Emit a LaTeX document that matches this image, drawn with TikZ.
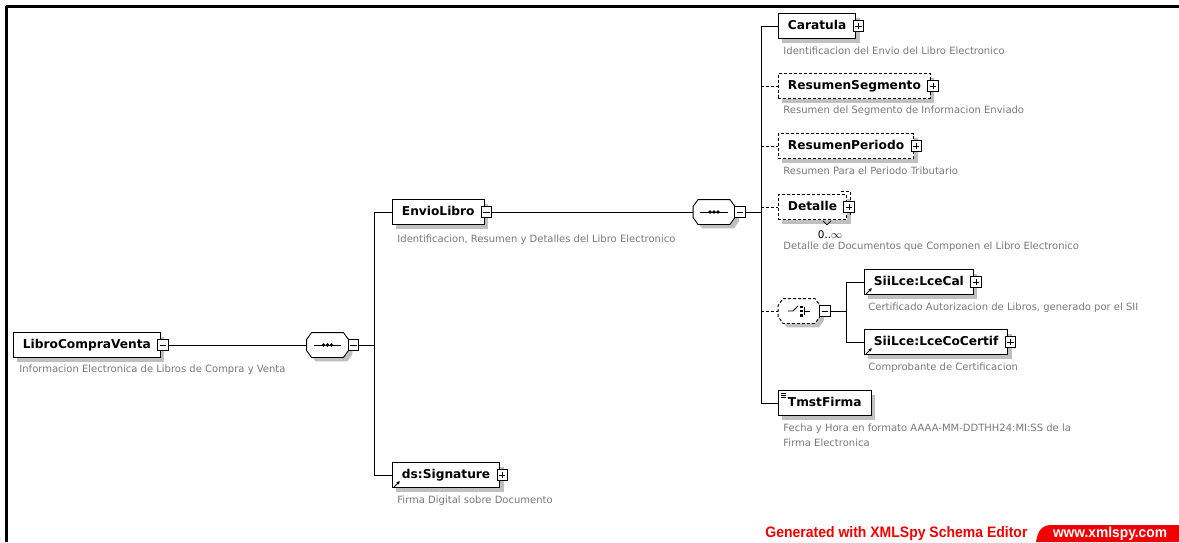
\documentclass[tikz,border=0pt]{standalone}
\usepackage{fontspec}
\usepackage{graphicx}
\setmainfont{DejaVu Sans}
\newfontfamily\ftfont{Liberation Sans}
\usetikzlibrary{shadows,arrows.meta}
\definecolor{xred}{RGB}{240,0,0}
\definecolor{shd}{RGB}{192,192,192}
\definecolor{dgray}{RGB}{120,120,120}
\tikzset{
  every node/.style={inner sep=0pt},
  dsh/.style={dash pattern=on 3pt off 2pt},
  shdw/.style={drop shadow={shadow xshift=4pt, shadow yshift=-4pt, fill=shd, opacity=1}},
  elem/.style={draw=black, fill=white, line width=0.9pt, anchor=west,
    minimum height=25pt, inner xsep=9.5pt, text height=9pt, text depth=2.5pt,
    font=\fontsize{12.2}{14}\selectfont\bfseries, shdw},
  optelem/.style={elem, dsh},
  tminus/.style={draw, fill=white, line width=0.7pt, minimum size=10.5pt,
    path picture={\draw[line width=0.7pt] ([xshift=2pt]path picture bounding box.west) -- ([xshift=-2pt]path picture bounding box.east);}},
  tplus/.style={draw, fill=white, line width=0.7pt, minimum size=10.5pt,
    path picture={\draw[line width=0.7pt] ([xshift=2pt]path picture bounding box.west) -- ([xshift=-2pt]path picture bounding box.east);
                  \draw[line width=0.7pt] ([yshift=-2pt]path picture bounding box.north) -- ([yshift=2pt]path picture bounding box.south);}},
  comp/.style={rectangle, draw=none, minimum width=41pt, minimum height=24pt},
  octline/.style={draw=black, fill=white, line width=0.9pt, shdw},
  desc/.style={anchor=west, text=dgray, font=\fontsize{10}{15}\selectfont},
  refarrow/.style={line width=1pt, -{Latex[length=3.5pt,width=3.5pt]}},
}
\newcommand\octa[2]{%
  \path[#2] ([xshift=5pt]#1.north west) -- ([xshift=-5pt]#1.north east)
    -- ([yshift=-7pt]#1.north east) -- ([yshift=7pt]#1.south east)
    -- ([xshift=-5pt]#1.south east) -- ([xshift=5pt]#1.south west)
    -- ([yshift=7pt]#1.south west) -- ([yshift=-7pt]#1.north west) -- cycle;}
\newcommand\seqsym[1]{%
  \draw[line width=0.9pt] ([xshift=7pt]#1.west) -- ([xshift=-7pt]#1.east);
  \foreach \dx in {-4,0,4} \fill ([xshift=\dx pt]#1.center) circle (1.8pt);}
\begin{document}
\begin{tikzpicture}[x=1pt,y=-1pt,line width=0.9pt]
\useasboundingbox (0,0) rectangle (1179,542);
% frame
\draw[line width=2.2pt] (5.5,6.5) -- (1179,6.5);
\draw[line width=2.2pt] (6.5,5.5) -- (6.5,542);

% root
\node[elem] (lcv) at (13,345) {LibroCompraVenta};
\node[tminus] (t0) at ([xshift=2pt]lcv.east) {};
\node[desc] (dlcv) at (19,370) {Informacion Electronica de Libros de Compra y Venta};

% sequence 1
\node[comp] (s1) at (327.5,345) {};
\octa{s1}{octline}
\seqsym{s1}
\node[tminus] (t1) at ([xshift=5pt]s1.east) {};
\coordinate (b1) at (374,345);
\draw (t0.east) -- (s1.west);
\draw (t1.east) -- (b1);

% EnvioLibro
\node[elem] (env) at (392,212) {EnvioLibro};
\node[tminus] (t2) at ([xshift=2pt]env.east) {};
\node[desc] (denv) at (397,240) {Identificacion, Resumen y Detalles del Libro Electronico};

% ds:Signature
\node[elem] (sig) at (392,475) {ds:Signature};
\node[tplus] (t3) at ([xshift=2pt]sig.east) {};
\draw[refarrow] ([shift={(2,-1)}]sig.south west) -- ([shift={(8,-7)}]sig.south west);
\node[desc] (dsig) at (397,501) {Firma Digital sobre Documento};

\draw (b1) |- (env.west);
\draw (b1) |- (sig.west);

% sequence 2
\node[comp] (s2) at (714,212) {};
\octa{s2}{octline}
\seqsym{s2}
\node[tminus] (t4) at ([xshift=5pt]s2.east) {};
\draw (t2.east) -- (s2.west);
\coordinate (b2) at (761,212);
\draw (t4.east) -- (b2);

% children of sequence 2
\node[elem] (car) at (778,26) {Caratula};
\node[tplus] (t6) at ([xshift=2pt]car.east) {};
\node[desc] (dcar) at (783,51) {Identificacion del Envio del Libro Electronico};

\node[optelem] (rs) at (778,86) {ResumenSegmento};
\node[tplus] (t7) at ([xshift=2pt]rs.east) {};
\node[desc] (drs) at (783,111) {Resumen del Segmento de Informacion Enviado};

\node[optelem] (rp) at (778,146) {ResumenPeriodo};
\node[tplus] (t8) at ([xshift=2pt]rp.east) {};
\node[desc] (drp) at (783,171) {Resumen Para el Periodo Tributario};

\node[optelem] (det) at (778,207) {Detalle};
\draw[dsh, line width=0.9pt] ([shift={(-6,-3)}]det.north east) -- ([shift={(3,-3)}]det.north east) -- ([shift={(3,-3)}]det.south east);
\node[tplus] (t9) at ([xshift=2pt]det.east) {};
\draw[line width=0.7pt] ([shift={(-24,1)}]det.south east) -- ([shift={(-20,5)}]det.south east) -- ([shift={(-16,1)}]det.south east);
\node[font=\fontsize{10.5}{12}\selectfont] (occ) at (830,235) {0..\(\infty\)};
\node[desc] (ddet) at (783,247) {Detalle de Documentos que Componen el Libro Electronico};

% choice
\node[comp] (ch) at (799,311) {};
\octa{ch}{octline, dsh}
\begin{scope}[shift={(ch.center)}, line width=0.8pt]
  \draw (-11,0) -- (-6,0) -- (-1,-5);
  \fill (1,-5.5) rectangle (3.5,-3);
  \fill (1,-1.2) rectangle (3.5,1.2);
  \fill (1,3) rectangle (3.5,5.5);
  \draw (5,-4) -- (5,4);
  \draw (5,0) -- (11,0);
\end{scope}
\node[tminus] (t5) at ([xshift=5pt]ch.east) {};
\coordinate (b3) at (846,311);
\draw (t5.east) -- (b3);

\node[elem] (cal) at (864,282) {SiiLce:LceCal};
\node[tplus] (t10) at ([xshift=2pt]cal.east) {};
\draw[refarrow] ([shift={(2,-1)}]cal.south west) -- ([shift={(8,-7)}]cal.south west);
\node[desc] (dcal) at (868,308) {Certificado Autorizacion de Libros, generado por el SII};

\node[elem] (cert) at (864,342) {SiiLce:LceCoCertif};
\node[tplus] (t11) at ([xshift=2pt]cert.east) {};
\draw[refarrow] ([shift={(2,-1)}]cert.south west) -- ([shift={(8,-7)}]cert.south west);
\node[desc] (dcert) at (868,368) {Comprobante de Certificacion};

\draw (b3) |- (cal.west);
\draw (b3) |- (cert.west);

\node[elem] (tm) at (778,403) {TmstFirma};
\foreach \dy in {3,5,7} \draw[line width=0.7pt] ([shift={(3,\dy)}]tm.north west) -- ([shift={(8,\dy)}]tm.north west);
\node[desc, align=left] (dtm) at (783,435) {Fecha y Hora en formato AAAA-MM-DDTHH24:MI:SS de la\\Firma Electronica};

% bus 2
\draw (car.west -| b2) -- (tm.west -| b2);
\draw (car.west -| b2) -- (car.west);
\draw[dsh] (rs.west -| b2) -- (rs.west);
\draw[dsh] (rp.west -| b2) -- (rp.west);
\draw[dsh] (det.west -| b2) -- (det.west);
\draw[dsh] (ch.west -| b2) -- (ch.west);
\draw (tm.west -| b2) -- (tm.west);

% footer
\node[anchor=west, text=xred, font=\ftfont\bfseries] (gen) at (765,534) {\resizebox{262pt}{11pt}{Generated with XMLSpy Schema Editor}};
\fill[xred] (1036,542) .. controls (1038,530) and (1042,525) .. (1052,525) -- (1179,525) -- (1179,542) -- cycle;
\node[text=white, font=\ftfont\bfseries] (www) at (1110,534) {\resizebox{114pt}{10.5pt}{www.xmlspy.com}};
\end{tikzpicture}
\end{document}
